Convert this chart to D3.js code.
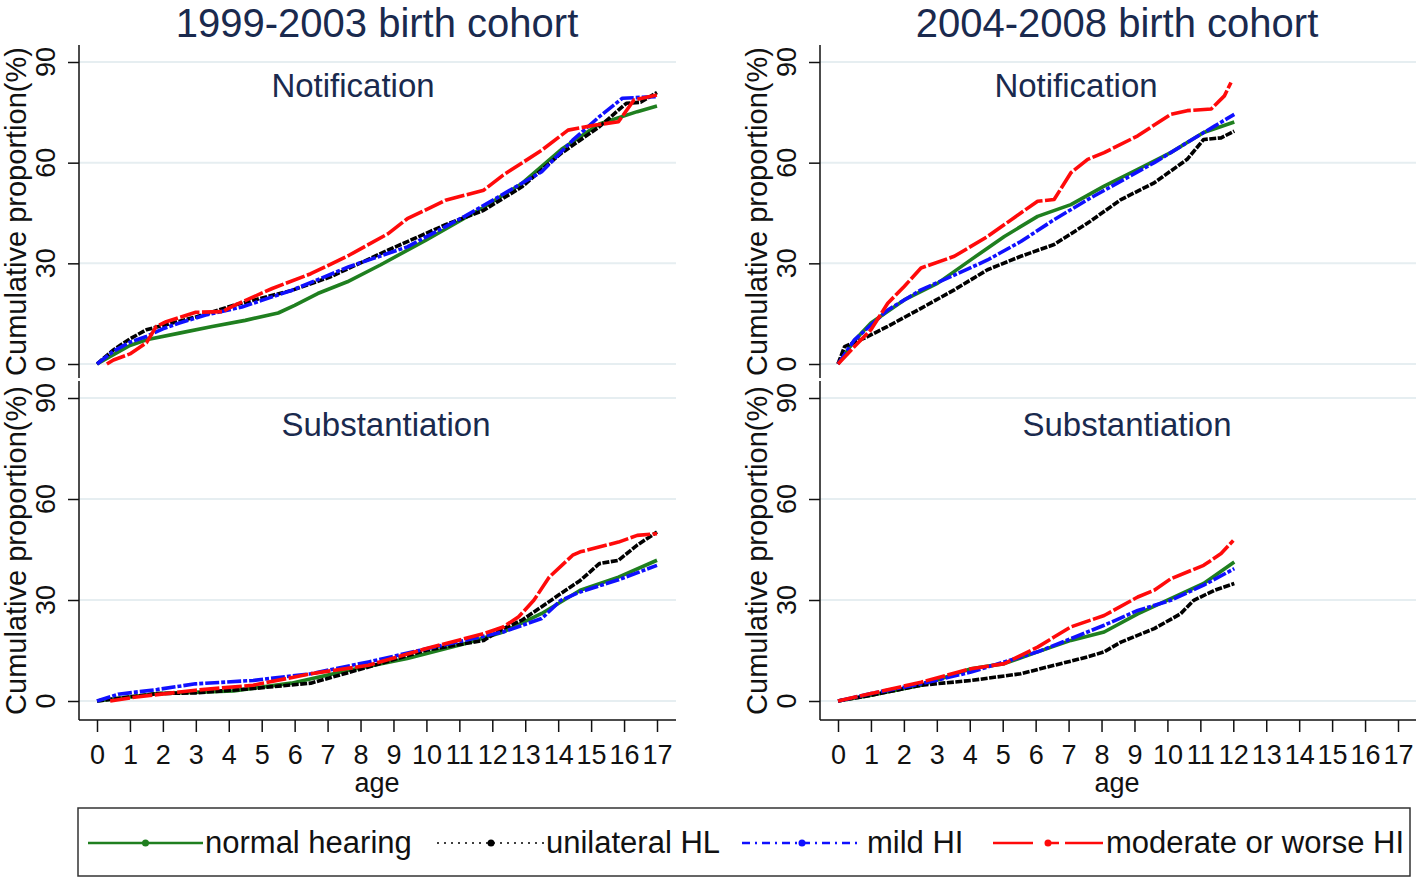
<!DOCTYPE html>
<html>
<head>
<meta charset="utf-8">
<script src="https://cdn.jsdelivr.net/npm/d3@7"></script>
<style>
  body { margin: 0; background: #fff; }
  svg { display: block; font-family: 'Liberation Sans', Arial, sans-serif; }
</style>
</head>
<body>
<div id="chart"></div>
<script>
// cohorts, outcomes and groups
const cohortTitles = ['1999-2003 birth cohort', '2004-2008 birth cohort'];
const outcomeTitles = ['Notification', 'Substantiation'];
const groupNames = ['normal hearing', 'unilateral HL', 'mild HI', 'moderate or worse HI'];
const xTicks = [0, 1, 2, 3, 4, 5, 6, 7, 8, 9, 10, 11, 12, 13, 14, 15, 16, 17];
const yTicks = [0, 30, 60, 90];

// [age, cumulative %]
const notif9903_normal = [[0,0],[0.5,2.8],[1,5.5],[1.5,7.2],[2.5,9.2],[3.5,11.2],[4.5,13],[5.5,15.2],[6,17.5],[6.7,21],[7.6,24.5],[8.6,29.5],[10,37],[11.7,46.5],[12.9,53.8],[14.1,64],[15.25,71.5],[16.4,75.2],[17,76.9]];
const notif9903_unilat = [[0,0],[0.5,4.2],[1,7.5],[1.5,10.2],[2,11.5],[3,14],[4.15,17.5],[5.9,21.9],[7.07,25.9],[8.83,33.9],[10.58,41.5],[11.74,45.8],[12.9,52.8],[14.08,62.7],[15.25,70.7],[16.07,77.7],[16.5,78],[17,80.9]];
const notif9903_mild = [[0,0],[0.5,3.8],[1,6.5],[1.5,8.2],[2,10.5],[2.5,12.2],[3.3,14.6],[4.4,17],[5.9,21.9],[7.65,29],[9.42,34.9],[11.16,44],[12.1,49.3],[13.5,57.3],[14.44,66.7],[15.25,73.7],[15.95,79.2],[17,79.7]];
const notif9903_moderate = [[0.3,0],[0.5,1.2],[1,3],[1.5,6.3],[1.8,11.2],[2.1,12.6],[3,15.4],[3.8,15.6],[4.2,17.6],[5.32,22.5],[6.49,26.9],[7.65,32.4],[8.83,38.8],[9.42,43.3],[10.58,48.8],[11.74,51.8],[12.33,56.3],[13.5,63.7],[14.3,69.7],[15.13,71.2],[15.83,72.2],[16.3,78.7],[17,80.2]];

const notif0408_normal = [[0,0],[0.5,7],[1,12.2],[2.01,19.1],[3.03,24.1],[4.04,31.1],[5.05,38],[6.06,44],[7.07,47.5],[8.08,53],[9.1,58],[10.1,63],[10.6,66],[11.1,69],[12.03,72.1]];
const notif0408_unilat = [[0,0],[0.2,5.2],[0.8,7.7],[1.51,11.2],[2.52,16.6],[3.53,22.1],[4.54,28.1],[5.55,32.1],[6.56,35.6],[7.58,42],[8.59,49],[9.6,54],[10.6,61],[11.1,66.9],[11.63,67.4],[12.03,69.4]];
const notif0408_mild = [[0,0],[0.5,7.2],[1.51,16.1],[2.52,22.1],[3.53,26.5],[4.54,31],[5.55,36.5],[6.56,43],[7.58,49],[8.59,54.5],[9.6,60],[10.6,66],[11.43,70.9],[12.03,74.4]];
const notif0408_moderate = [[0,0],[0.5,5.2],[1,10.2],[1.51,18.1],[2.01,23.1],[2.52,28.6],[3.53,32.1],[4.54,38],[5.55,45],[6.06,48.5],[6.56,49],[7.07,57],[7.58,61],[8.08,63],[9.1,68],[10.1,74.4],[10.6,75.5],[11.33,76],[11.73,79.9],[11.93,83.9]];

const subst9903_normal = [[0,0],[1.82,2.2],[4.15,3],[5.9,5.3],[7.65,9.1],[9.42,12.6],[11.16,17],[12.33,20.5],[13.5,26],[14.08,29.4],[14.67,32.9],[15.83,36.8],[17,41.8]];
const subst9903_unilat = [[0,0],[1.82,2.2],[2.99,2.4],[4.74,3.7],[6.49,5.3],[8.24,10.1],[10,15.1],[11.74,18],[12.33,21.5],[12.9,24],[14.08,31.9],[14.67,35.8],[15.25,40.8],[15.83,41.8],[16.4,46.3],[17,50.2]];
const subst9903_mild = [[0,0],[0.64,2],[1.82,3.4],[2.99,5.1],[4.74,6.1],[6.49,8.1],[8.24,11.6],[10,15.5],[11.16,18],[12.33,20.5],[13.5,24.5],[14.08,29.9],[14.67,32.4],[15.83,36],[17,40.3]];
const subst9903_moderate = [[0.4,0],[1.2,1.2],[2.99,3.2],[4.74,4.7],[6.49,8.1],[8.24,10.6],[10,15.6],[11.74,20],[12.33,22],[12.8,25],[13.26,29.9],[13.73,36.8],[14.44,43.3],[14.67,44.3],[15.83,47.2],[16.4,49.2],[17,49.7]];

const subst0408_normal = [[0,0],[1,1.7],[2.52,4.7],[4.04,9.6],[5.05,11.1],[6.06,14.6],[7.07,18],[8.08,20.5],[9.1,25.9],[10.1,30.4],[11.1,34.9],[12.03,41.3]];
const subst0408_unilat = [[0,0],[1,1.7],[2.52,4.7],[4.04,6.1],[5.55,8.1],[6.56,10.6],[7.58,13.1],[8.08,14.6],[8.59,17.5],[9.6,21.5],[10.4,25.9],[10.8,29.9],[11.43,32.9],[12.03,34.9]];
const subst0408_mild = [[0,0],[1,2.2],[2.52,5.1],[4.04,8.6],[5.05,11.6],[6.06,14.6],[7.07,18.5],[8.08,22.5],[9.1,26.9],[10.1,29.9],[11.1,34.4],[12.03,39.3]];
const subst0408_moderate = [[0,0],[1,2.2],[2.52,5.6],[4.04,9.6],[5.05,11.1],[6.06,16],[6.56,19],[7.07,22],[8.08,25.4],[9.1,30.9],[9.6,32.9],[10.1,36.3],[11.1,40.3],[11.63,43.8],[12,47.7]];

const panels = [
  { col: 0, row: 0, series: [notif9903_normal, notif9903_unilat, notif9903_mild, notif9903_moderate] },
  { col: 1, row: 0, series: [notif0408_normal, notif0408_unilat, notif0408_mild, notif0408_moderate] },
  { col: 0, row: 1, series: [subst9903_normal, subst9903_unilat, subst9903_mild, subst9903_moderate] },
  { col: 1, row: 1, series: [subst0408_normal, subst0408_unilat, subst0408_mild, subst0408_moderate] }
];

const colors = ['#1f7f1f', '#000000', '#1010ff', '#ff0a0a'];
const dashes = [null, '7,1.5', '14,2,4,2', '20,2.5'];
const navy = '#1a2a4e';
const gridColor = '#e6eef1';

const W = 1418, H = 880;
const svg = d3.select('#chart').append('svg').attr('width', W).attr('height', H);

// layout of the 2x2 grid
const cols = [
  { axis: 79, right: 676, x0: 97, x1: 657, center: 377, sub: [353, 386] },
  { axis: 820, right: 1416, x0: 838, x1: 1398, center: 1117, sub: [1076, 1127] }
];
const rows = [
  { top: 45, bottom: 378, y0: 364, y90: 62, subY: 97 },
  { top: 381, bottom: 720, y0: 701, y90: 398, subY: 436 }
];

cols.forEach((c, i) => {
  svg.append('text')
    .attr('x', c.center).attr('y', 37)
    .attr('text-anchor', 'middle')
    .style('font-size', '40px').style('fill', navy)
    .text(cohortTitles[i]);
});

const line = d3.line().x(d => d.x).y(d => d.y);

panels.forEach(p => {
  const c = cols[p.col], r = rows[p.row];
  const x = d3.scaleLinear().domain([0, 17]).range([c.x0, c.x1]);
  const y = d3.scaleLinear().domain([0, 90]).range([r.y0, r.y90]);
  const g = svg.append('g');

  // grid
  g.selectAll('.grid').data(yTicks).enter().append('line')
    .attr('x1', c.axis).attr('x2', c.right)
    .attr('y1', d => y(d)).attr('y2', d => y(d))
    .attr('stroke', gridColor).attr('stroke-width', 2);

  // y axis
  const ya = g.append('g').attr('transform', `translate(${c.axis},0)`)
    .call(d3.axisLeft(y).tickValues(yTicks).tickSize(11).tickFormat(''));
  ya.select('.domain').remove();
  ya.selectAll('line').attr('stroke', '#111').attr('stroke-width', 1.5);
  g.append('line')
    .attr('x1', c.axis).attr('x2', c.axis)
    .attr('y1', r.top).attr('y2', r.bottom)
    .attr('stroke', '#111').attr('stroke-width', 1.5);
  g.selectAll('.ylab').data(yTicks).enter().append('text')
    .attr('transform', d => `translate(${c.axis - 24},${y(d)}) rotate(-90)`)
    .attr('text-anchor', 'middle')
    .style('font-size', '27px').style('fill', '#111')
    .text(d => d);
  g.append('text')
    .attr('transform', `translate(${c.axis - 53},${(r.top + r.bottom) / 2}) rotate(-90)`)
    .attr('text-anchor', 'middle')
    .style('font-size', '29px').style('fill', '#111')
    .text('Cumulative proportion(%)');

  // panel title
  g.append('text')
    .attr('x', c.sub[p.row]).attr('y', r.subY)
    .attr('text-anchor', 'middle')
    .style('font-size', '33px').style('fill', navy)
    .text(outcomeTitles[p.row]);

  // curves
  p.series.forEach((s, k) => {
    g.append('path')
      .attr('d', line(s.map(d => ({ x: x(d[0]), y: y(d[1]) }))))
      .attr('fill', 'none')
      .attr('stroke', colors[k])
      .attr('stroke-width', 3.6)
      .attr('stroke-linejoin', 'round')
      .attr('stroke-dasharray', dashes[k]);
  });

  // x axis on bottom row
  if (p.row === 1) {
    const xa = g.append('g').attr('transform', `translate(0,${r.bottom})`)
      .call(d3.axisBottom(x).tickValues(xTicks).tickSize(12).tickPadding(13));
    xa.select('.domain').remove();
    xa.selectAll('line').attr('stroke', '#111').attr('stroke-width', 1.5);
    xa.selectAll('text').style('font-size', '27px').style('fill', '#111')
      .style('font-family', "'Liberation Sans', Arial, sans-serif");
    g.append('line')
      .attr('x1', c.axis).attr('x2', c.right)
      .attr('y1', r.bottom).attr('y2', r.bottom)
      .attr('stroke', '#111').attr('stroke-width', 1.5);
    g.append('text')
      .attr('x', c.center).attr('y', 792)
      .attr('text-anchor', 'middle')
      .style('font-size', '27px').style('fill', '#111')
      .text('age');
  }
});

// legend
const legend = svg.append('g');
legend.append('rect')
  .attr('x', 78).attr('y', 808).attr('width', 1332).attr('height', 68)
  .attr('fill', '#fff').attr('stroke', '#333').attr('stroke-width', 1.5);
const legendItems = [
  { x1: 88, x2: 203, tx: 205 },
  { x1: 437, x2: 545, tx: 546 },
  { x1: 742, x2: 862, tx: 867 },
  { x1: 993, x2: 1103, tx: 1106 }
];
const legendDash = [null, '2,5', '8,5,2,5', '40,13,13,6'];
legendItems.forEach((it, k) => {
  legend.append('line')
    .attr('x1', it.x1).attr('x2', it.x2).attr('y1', 843).attr('y2', 843)
    .attr('stroke', colors[k])
    .attr('stroke-width', k === 1 ? 1.5 : 2.5)
    .attr('stroke-dasharray', legendDash[k]);
  legend.append('circle')
    .attr('cx', (it.x1 + it.x2) / 2).attr('cy', 843).attr('r', 3.5)
    .attr('fill', colors[k]);
  legend.append('text')
    .attr('x', it.tx).attr('y', 853)
    .style('font-size', '31px').style('fill', '#111')
    .text(groupNames[k]);
});
</script>
</body>
</html>
